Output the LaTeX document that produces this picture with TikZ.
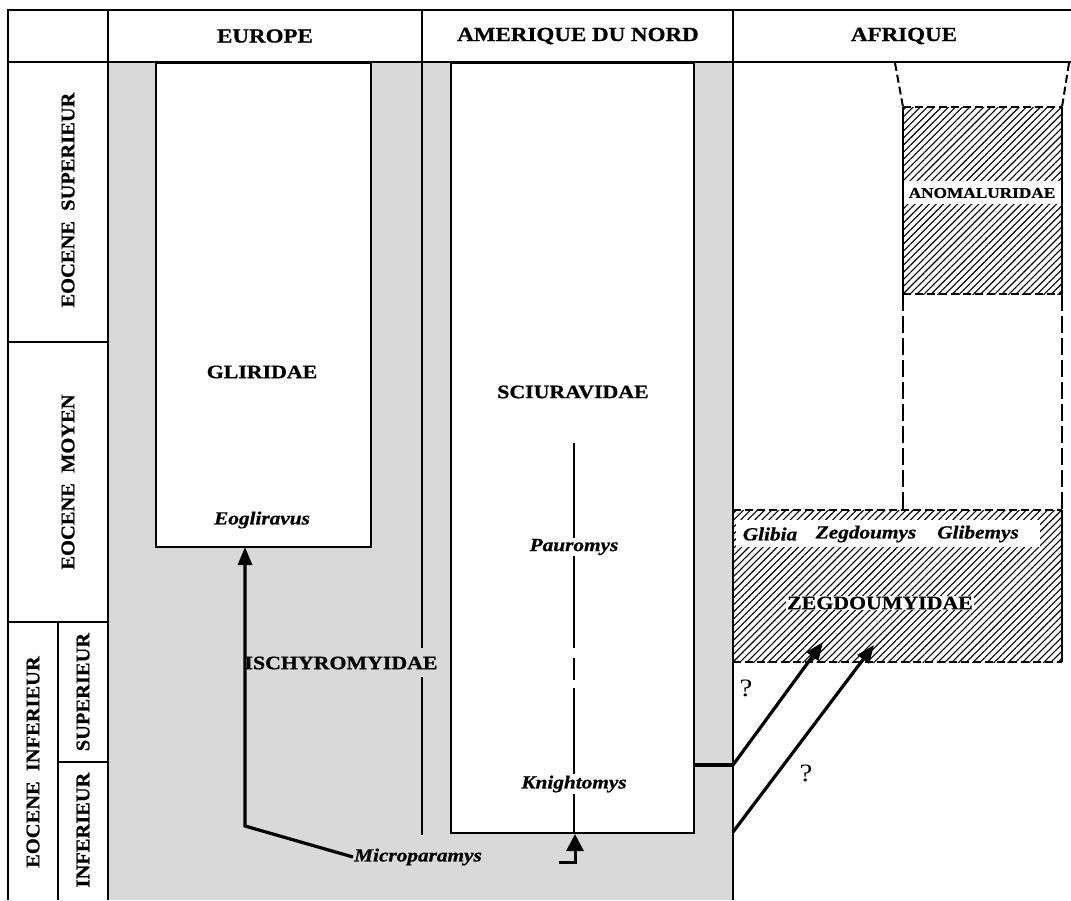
\documentclass[tikz,border=0pt]{standalone}
\usepackage{fontspec}
\setmainfont{Liberation Serif}[FakeStretch=1.15,BoldFeatures={FakeBold=0.8},BoldItalicFeatures={FakeBold=0.8}]
\newfontfamily\rotfont{Liberation Serif}[FakeStretch=1.05,BoldFeatures={FakeBold=0.8}]
\usetikzlibrary{arrows.meta,patterns.meta}
\definecolor{stipple}{gray}{0.85}
\begin{document}
\begin{tikzpicture}[x=1pt,y=-1pt,
  frame/.style={line width=2pt},
  boxw/.style={draw,fill=white,line width=2pt,inner sep=0pt,anchor=north west},
  hdr/.style={font=\bfseries\fontsize{20}{22}\selectfont,inner sep=1pt},
  rotlab/.style={font=\rotfont\bfseries\fontsize{19.5}{21}\selectfont,rotate=90,inner sep=1pt},
  fam/.style={font=\bfseries\fontsize{19}{21}\selectfont,inner sep=1pt},
  gen/.style={font=\bfseries\itshape\fontsize{18.5}{20}\selectfont,inner sep=1pt},
  small/.style={font=\bfseries\fontsize{15}{17}\selectfont,inner sep=1pt},
  qmark/.style={font=\fontsize{25}{27}\selectfont,inner sep=1pt},
  arr/.style={line width=3.2pt,-{Triangle[length=18pt,width=14pt]}},
  hatch/.style={pattern={Lines[angle=45,distance=5pt,line width=1.1pt]}},
  dsh/.style={line width=2pt,dash pattern=on 8pt off 4pt},
  dshlong/.style={line width=2pt,dash pattern=on 17pt off 5pt},
  thin/.style={line width=2pt}]
\useasboundingbox (0,0) rectangle (1071,900);
% stippled background
\fill[stipple] (108,62) rectangle (733,900);
% white boxes
\node[boxw,minimum width=215pt,minimum height=484pt] (gli) at (155,62) {};
\node[boxw,minimum width=243pt,minimum height=770pt] (sci) at (450,62) {};
% Europe / Amerique separator (Ischyromyidae)
\draw[thin] (422,62) -- (422,648);
\draw[thin] (422,677) -- (422,835);
\node[fam] (isc) at (341,663) {ISCHYROMYIDAE};
% texts in boxes
\node[fam] (gl) at (262,372) {GLIRIDAE};
\node[gen] (eog) at (262,520) {Eogliravus};
\node[fam] (sc) at (573,392) {SCIURAVIDAE};
\node[gen] (pau) at (574,547) {Pauromys};
\node[gen] (kni) at (574,784) {Knightomys};
\node[gen] (mic) at (418,857) {Microparamys};
% dashed lineage line in Sciuravidae
\draw[thin] (574,443) -- (pau.north);
\draw[thin] (pau.south) -- (574,648);
\draw[thin] (574,658) -- (574,680);
\draw[thin] (574,688) -- (kni.north);
\draw[thin] (kni.south) -- (574,832);
% arrow Microparamys -> Gliridae
\coordinate (m1) at (245,826);
\coordinate (m2) at (245,547);
\draw[arr,line join=miter] (mic.west) -- (m1) -- (m2);
% small arrow to Sciuravidae
\coordinate (k0) at (559,862);
\coordinate (k1) at (575,862);
\coordinate (k2) at (575,834);
\draw[line width=3pt,-{Triangle[length=17pt,width=17pt]}] (k0) -- (k1) -- (k2);
% Africa: Anomaluridae
\fill[hatch] (903,107) rectangle (1062,294);
\fill[white] (903,181) rectangle (1062,204);
\node[small] (ano) at (982,193) {ANOMALURIDAE};
\draw[thin] (903,107) -- (903,294);
\draw[thin] (1062,107) -- (1062,294);
\draw[dsh] (903,107) -- (1062,107);
\draw[dsh] (903,294) -- (1062,294);
\draw[dsh] (895,63) -- (903,107);
\draw[dsh] (1069,63) -- (1062,107);
\draw[dshlong] (903,294) -- (903,510);
\draw[dshlong] (1062,294) -- (1062,510);
% Africa: Zegdoumyidae
\fill[hatch] (733,510) rectangle (1062,662);
\fill[white] (736,520) rectangle (1040,547);
\node[gen] (glib) at (770,534) {Glibia};
\node[gen] (zeg) at (866,534) {Zegdoumys};
\node[gen] (glim) at (978,534) {Glibemys};
\node[fam,fill=white,inner sep=1pt] (zeg2) at (880,603) {ZEGDOUMYIDAE};
\draw[dsh] (733,510) -- (1062,510);
\draw[dsh] (733,662) -- (1062,662);
\draw[thin] (1062,510) -- (1062,662);
% dispersal arrows
\coordinate (s1) at (733,765);
\coordinate (s2) at (733,832);
\coordinate (t1) at (823,642);
\coordinate (t2) at (874,645);
\draw[line width=3.2pt] (sci.east |- s1) -- (s1);
\draw[arr] (s1) -- (t1);
\draw[arr] (s2) -- (t2);
\node[qmark] (q1) at (746,688) {?};
\node[qmark] (q2) at (806,773) {?};
% frame and grid
\draw[frame] (8,10) -- (1071,10);
\draw[frame] (8,62) -- (1071,62);
\draw[frame] (8,9) -- (8,900);
\draw[frame] (108,10) -- (108,900);
\draw[frame] (422,10) -- (422,62);
\draw[frame] (733,10) -- (733,900);
\draw[frame] (8,342) -- (108,342);
\draw[frame] (8,622) -- (108,622);
\draw[frame] (58,622) -- (58,900);
\draw[frame] (58,762) -- (108,762);
% headers
\node[hdr] (eu) at (265,36) {EUROPE};
\node[hdr] (am) at (578,36) {AMERIQUE DU NORD};
\node[hdr] (af) at (904,36) {AFRIQUE};
% period labels
\node[rotlab] (es) at (68,200) {EOCENE\ \ SUPERIEUR};
\node[rotlab] (em) at (68,482) {EOCENE\ \ MOYEN};
\node[rotlab] (ei) at (33,762) {EOCENE\ \ INFERIEUR};
\node[rotlab] (eis) at (83,692) {SUPERIEUR};
\node[rotlab] (eii) at (83,830) {INFERIEUR};
\end{tikzpicture}
\end{document}
